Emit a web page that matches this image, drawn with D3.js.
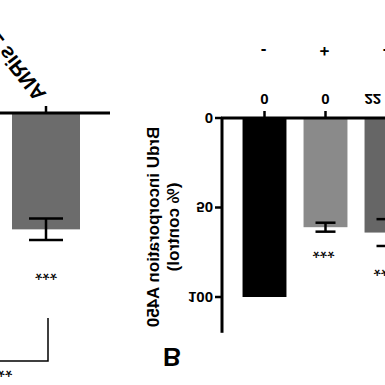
<!DOCTYPE html>
<html>
<head>
<meta charset="utf-8">
<script src="https://cdn.jsdelivr.net/npm/d3@7"></script>
<style>
  body { margin: 0; background: #fff; }
  text { font-family: "Liberation Sans", Arial, sans-serif; }
</style>
</head>
<body>
<svg width="385" height="385"></svg>
<script>
// right panel (B)
var groups = ["ctrl", "si", "drug"];
var values = [100, 61, 64];
var errors = [0, 2.5, 7.5];
var doseLabels = ["0", "0", "22"];
var treatRow = ["-", "+", "-"];
var sigLabels = ["", "***", "***"];
var sigPos = [0, 71, 81];
var barColors = ["#000", "#8a8a8a", "#666"];
var yTicks = [0, 50, 100];

// left panel (partial)
var leftGroups = ["ANRIL siRNA"];
var leftValues = [65];
var leftErrors = [6];
var leftSig = ["***"];
var leftSigPos = [86];

var svg = d3.select("svg");
// the figure is shown upside down, so draw normally and flip the whole thing
var g = svg.append("g").attr("transform", "translate(0,385) scale(1,-1)");

var x = d3.scaleBand().domain(groups).range([234, 417]).paddingInner(0.28).paddingOuter(0.14);
var y = d3.scaleLinear().domain([0, 120]).range([267, 52.2]);
function cx(i) { return x(groups[i]) + x.bandwidth() / 2; }

var rows = values.map(function(v, i) { return { i: i, v: v, e: errors[i] }; });

// bars
g.selectAll(".bar")
    .data(rows)
    .enter().append("rect")
    .attr("x", function(d) { return x(groups[d.i]); })
    .attr("width", x.bandwidth())
    .attr("y", function(d) { return y(d.v); })
    .attr("height", function(d) { return y(0) - y(d.v); })
    .style("fill", function(d) { return barColors[d.i]; });

// error bars
var eb = g.selectAll(".err")
    .data(rows.filter(function(d) { return d.e > 0; }))
    .enter().append("g")
    .attr("transform", function(d) { return "translate(" + cx(d.i) + ",0)"; })
    .style("stroke", "#000").style("stroke-width", 2.5);
eb.append("line").attr("x1", 0).attr("x2", 0)
    .attr("y1", function(d) { return y(d.v - d.e); })
    .attr("y2", function(d) { return y(d.v + d.e); });
eb.append("line").attr("x1", -10).attr("x2", 10)
    .attr("y1", function(d) { return y(d.v - d.e); }).attr("y2", function(d) { return y(d.v - d.e); });
eb.append("line").attr("x1", -10).attr("x2", 10)
    .attr("y1", function(d) { return y(d.v + d.e); }).attr("y2", function(d) { return y(d.v + d.e); });

// y axis
var yAxis = g.append("g").attr("transform", "translate(222,0)");
yAxis.append("line").attr("x1", 0).attr("x2", 0).attr("y1", y(0)).attr("y2", y(120))
    .style("stroke", "#000").style("stroke-width", 3);
yAxis.selectAll(".tick").data(yTicks).enter().append("line")
    .attr("x1", -7).attr("x2", 0).attr("y1", function(d) { return y(d); }).attr("y2", function(d) { return y(d); })
    .style("stroke", "#000").style("stroke-width", 2.5);
yAxis.selectAll(".tl").data(yTicks).enter().append("text")
    .attr("x", -9).attr("y", function(d) { return y(d) + 5.5; })
    .attr("text-anchor", "end")
    .style("font-size", "15px").style("font-weight", "bold")
    .text(function(d) { return d; });

// x axis
g.append("line").attr("x1", 221).attr("x2", 385).attr("y1", y(0)).attr("y2", y(0))
    .style("stroke", "#000").style("stroke-width", 3);
g.selectAll(".xt").data(groups).enter().append("line")
    .attr("x1", function(d, i) { return cx(i); })
    .attr("x2", function(d, i) { return cx(i); })
    .attr("y1", y(0)).attr("y2", y(0) + 7)
    .style("stroke", "#000").style("stroke-width", 2.5);
g.selectAll(".dose").data(doseLabels).enter().append("text")
    .attr("x", function(d, i) { return i === 2 ? x(groups[i]) : cx(i); })
    .attr("y", 291.5)
    .attr("text-anchor", function(d, i) { return i === 2 ? "start" : "middle"; })
    .style("font-size", "15px").style("font-weight", "bold")
    .text(function(d) { return d; });
g.selectAll(".treat").data(treatRow).enter().append("text")
    .attr("x", function(d, i) { return cx(i) - 1; })
    .attr("y", 339)
    .attr("text-anchor", "middle")
    .style("font-size", "17px").style("font-weight", "bold")
    .text(function(d) { return d; });

// significance
g.selectAll(".sig").data(sigLabels).enter().append("text")
    .attr("x", function(d, i) { return cx(i) - 2; })
    .attr("y", function(d, i) { return y(sigPos[i]); })
    .attr("text-anchor", "middle")
    .style("font-size", "19px")
    .text(function(d) { return d; });

// y label
var yl = g.append("text").attr("transform", "translate(159,158) rotate(-90)")
    .attr("text-anchor", "middle")
    .style("font-size", "17px").style("font-weight", "bold");
yl.append("tspan").attr("x", 0).attr("y", 0).text("BrdU incorporation A450");
yl.append("tspan").attr("x", 0).attr("y", 20).text("(% control)");

// panel letter
g.append("text").attr("x", 172).attr("y", 37).attr("text-anchor", "middle")
    .style("font-size", "25px").style("font-weight", "bold").text("B");

// left panel
var xl = d3.scaleBand().domain(leftGroups).range([12, 80]);
var yl2 = d3.scaleLinear().domain([0, 120]).range([272, 57.2]);
var lc = xl(leftGroups[0]) + xl.bandwidth() / 2;

g.selectAll(".lbar").data(leftValues).enter().append("rect")
    .attr("x", function(d, i) { return xl(leftGroups[i]); })
    .attr("width", xl.bandwidth())
    .attr("y", function(d) { return yl2(d); })
    .attr("height", function(d) { return yl2(0) - yl2(d); })
    .style("fill", "#6c6c6c");
leftValues.forEach(function(d, i) {
    var e = g.append("g").style("stroke", "#000").style("stroke-width", 2.5);
    e.append("line").attr("x1", lc).attr("x2", lc).attr("y1", yl2(d - leftErrors[i])).attr("y2", yl2(d + leftErrors[i]));
    [d - leftErrors[i], d + leftErrors[i]].forEach(function(v) {
        e.append("line").attr("x1", lc - 17).attr("x2", lc + 17).attr("y1", yl2(v)).attr("y2", yl2(v));
    });
});
g.append("line").attr("x1", 0).attr("x2", 110).attr("y1", yl2(0)).attr("y2", yl2(0))
    .style("stroke", "#000").style("stroke-width", 3);
g.append("line").attr("x1", lc).attr("x2", lc).attr("y1", yl2(0)).attr("y2", yl2(0) + 7)
    .style("stroke", "#000").style("stroke-width", 2.5);
g.append("text").attr("transform", "translate(" + (lc + 1) + "," + 291 + ") rotate(-52)")
    .attr("text-anchor", "end")
    .style("font-size", "21px").style("font-weight", "bold")
    .text(leftGroups[0]);
g.append("text").attr("x", lc).attr("y", yl2(leftSigPos[0])).attr("text-anchor", "middle")
    .style("font-size", "19px").text(leftSig[0]);

// comparison bracket
g.append("path")
    .attr("d", "M" + (lc + 2) + "," + yl2(114.5) + "V" + yl2(138.5) + "H-2")
    .style("fill", "none").style("stroke", "#000").style("stroke-width", 1.5);
g.append("text").attr("x", 5).attr("y", yl2(140)).attr("text-anchor", "middle")
    .style("font-size", "19px").text("**");
</script>
</body>
</html>
